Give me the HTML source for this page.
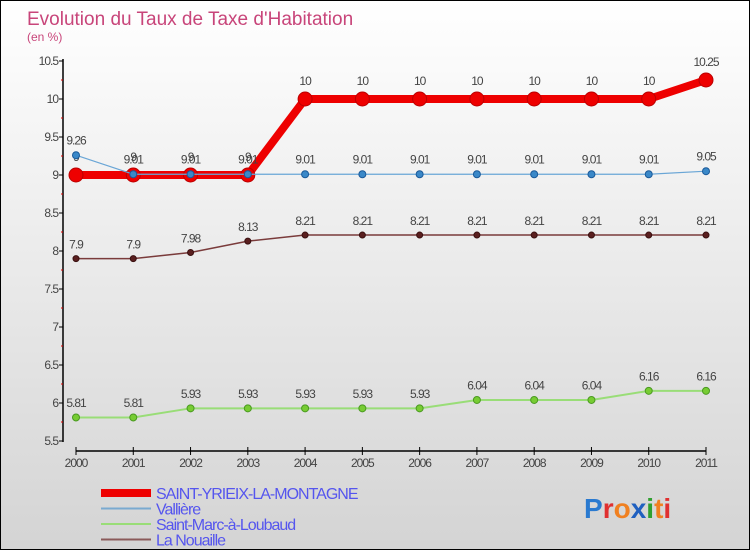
<!DOCTYPE html>
<html><head><meta charset="utf-8"><style>
body{margin:0;}
#c{width:748px;height:548px;border:1px solid #000;background:linear-gradient(#ffffff,#d4d4d4);position:relative;overflow:hidden;font-family:"Liberation Sans",sans-serif;}
svg text{font-family:"Liberation Sans",sans-serif;}
</style></head><body>
<div id="c">
<svg id="s" width="748" height="548">
<text x="26" y="24" font-size="19" fill="#c8457a">Evolution du Taux de Taxe d'Habitation</text>
<text x="26" y="40" font-size="12" fill="#c8457a">(en %)</text>
<g id="g"></g>
</svg>
</div>
<script>
const years=["2000","2001","2002","2003","2004","2005","2006","2007","2008","2009","2010","2011"];
const yTicks=[5.5,6,6.5,7,7.5,8,8.5,9,9.5,10,10.5];
const saint=[9,9,9,9,10,10,10,10,10,10,10,10.25];
const valliere=[9.26,9.01,9.01,9.01,9.01,9.01,9.01,9.01,9.01,9.01,9.01,9.05];
const marc=[5.81,5.81,5.93,5.93,5.93,5.93,5.93,6.04,6.04,6.04,6.16,6.16];
const nouaille=[7.9,7.9,7.98,8.13,8.21,8.21,8.21,8.21,8.21,8.21,8.21,8.21];
const NS="http://www.w3.org/2000/svg";
const g=document.getElementById('g');
const X=i=>75+i*(630/11);
const Y=v=>440-(v-5.5)*76;
function mk(t,a){const e=document.createElementNS(NS,t);for(const k in a)e.setAttribute(k,a[k]);g.appendChild(e);return e;}
let e=mk('line',{x1:62,y1:58,x2:62,y2:441,stroke:'#000','stroke-width':1.5});


e=mk('line',{x1:75,y1:450,x2:705,y2:450,stroke:'#000','stroke-width':1.5});


yTicks.forEach((v,i)=>{
 mk('line',{x1:58,y1:Y(v),x2:62,y2:Y(v),stroke:'#000'});
 if(i<yTicks.length-1)mk('line',{x1:60,y1:Y(v+0.25),x2:62,y2:Y(v+0.25),stroke:'#d00'});
 const t=mk('text',{x:57,y:Y(v)+4,'font-size':12,'text-anchor':'end',fill:'#444','letter-spacing':'-1'});
 t.textContent=String(v);
 
 
});
years.forEach((y,i)=>{
 mk('line',{x1:X(i),y1:446,x2:X(i),y2:454,stroke:'#000'});
 const t=mk('text',{x:X(i),y:466,'font-size':12,'text-anchor':'middle',fill:'#444','letter-spacing':'-1'});
 t.textContent=y;
 
 
});
function series(data,name,col,dot,w,r,stroke){
 const pl=mk('polyline',{points:data.map((v,i)=>X(i)+','+Y(v)).join(' '),fill:'none',stroke:col,'stroke-width':w});
 
 
 data.forEach((v,i)=>{
  const c=mk('circle',{cx:X(i),cy:Y(v),r:r,fill:dot,stroke:stroke,'stroke-width':1});
  
  
  const t=mk('text',{x:X(i),y:Y(v)-(r+7),'font-size':12,'text-anchor':'middle',fill:'#444','letter-spacing':'-1'});
  t.textContent=String(v);
  
  
 });
}
series(nouaille,'la-nouaille','#7a3b3b','#5a1f1f',1.5,3,'#3a1010');
series(marc,'saint-marc-a-loubaud','#99dd77','#77cc33',2,3.5,'#4a9a20');
series(saint,'saint-yrieix','#ee0000','#ee0000',8,7,'#bb0000');
series(valliere,'valliere','#6aa6d6','#3a88c8',1.2,3.5,'#1a5a9a');
const leg=[["SAINT-YRIEIX-LA-MONTAGNE","#ee0000",8],["Vallière","#7aaad0",2],["Saint-Marc-à-Loubaud","#99dd77",2],["La Nouaille","#8a5a5a",2]];
leg.forEach((l,i)=>{
 const y=492+i*15.5;
 const ln=mk('line',{x1:100,y1:y,x2:150,y2:y,stroke:l[1],'stroke-width':l[2]});
 
 
 const t=mk('text',{x:155,y:y+6,'font-size':16,fill:'#5555ee','letter-spacing':'-1'});
 t.textContent=l[0];
 
 
});
const logo=mk('text',{x:583,y:517,'font-size':28,'font-weight':'bold'});


[["P","#2a7ad0"],["r","#e03030"],["o","#f08020"],["x","#2060c0"],["i","#30a030"],["t","#f08020"],["i","#e03030"]].forEach(p=>{const s=document.createElementNS(NS,'tspan');s.setAttribute('fill',p[1]);s.textContent=p[0];logo.appendChild(s);});
</script>
</body></html>
